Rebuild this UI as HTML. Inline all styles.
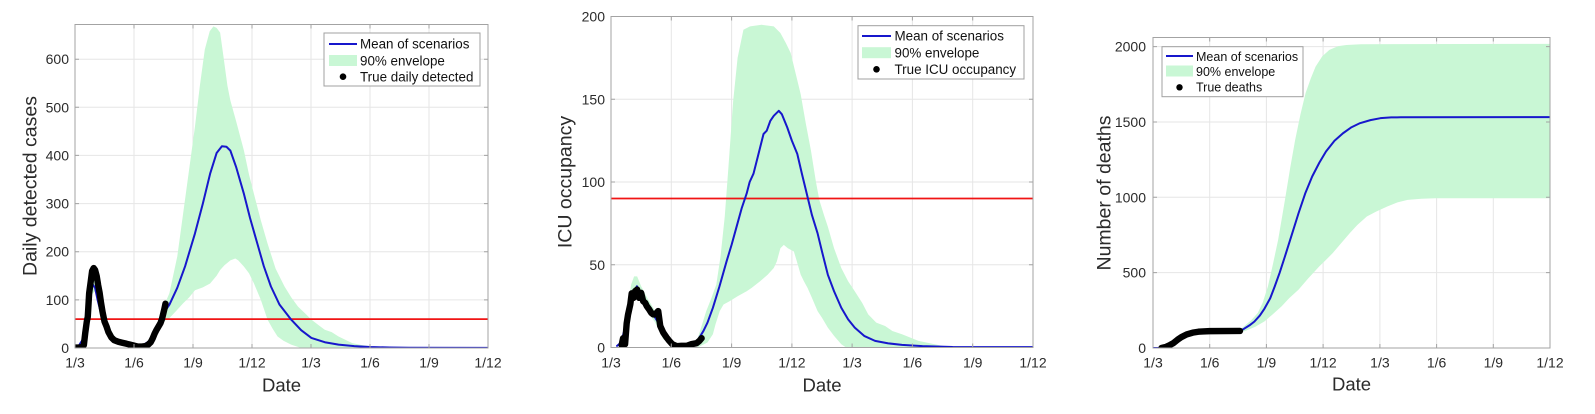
<!DOCTYPE html>
<html><head><meta charset="utf-8"><style>
html,body{margin:0;padding:0;background:#fff;}
svg{display:block;}
text{font-family:"Liberation Sans",Arial,sans-serif;fill:#2b2b2b;}
.tk{font-size:14px;}
.lb{font-size:18.5px;}
.yl{font-size:19.5px;}
.lg{font-size:13.4px;fill:#111;}
.lg3{font-size:12.5px;fill:#111;}
.grid{stroke:#e6e6e6;stroke-width:1;}
.ax{fill:none;stroke:#a3a3a3;stroke-width:1;}
.ns{vector-effect:non-scaling-stroke;fill:none;stroke-linejoin:round;stroke-linecap:round;}
</style></head><body>
<svg width="1595" height="414" viewBox="0 0 1595 414" xmlns="http://www.w3.org/2000/svg">
<rect width="1595" height="414" fill="#fff"/>
<defs>
<clipPath id="c1"><rect x="75" y="24.5" width="413" height="323.5"/></clipPath>
<clipPath id="c2"><rect x="611" y="16.5" width="422" height="331"/></clipPath>
<clipPath id="c3"><rect x="1153" y="37.5" width="397" height="310.5"/></clipPath>
</defs>

<!-- ================= PANEL 1 ================= -->
<g class="grid">
<line x1="134" y1="24.5" x2="134" y2="348"/><line x1="193" y1="24.5" x2="193" y2="348"/><line x1="252" y1="24.5" x2="252" y2="348"/><line x1="311" y1="24.5" x2="311" y2="348"/><line x1="370" y1="24.5" x2="370" y2="348"/><line x1="429" y1="24.5" x2="429" y2="348"/>
<line x1="75" y1="299.9" x2="488" y2="299.9"/><line x1="75" y1="251.7" x2="488" y2="251.7"/><line x1="75" y1="203.6" x2="488" y2="203.6"/><line x1="75" y1="155.4" x2="488" y2="155.4"/><line x1="75" y1="107.3" x2="488" y2="107.3"/><line x1="75" y1="59.2" x2="488" y2="59.2"/>
</g>
<g clip-path="url(#c1)">
<g transform="translate(75,348) scale(19.667,-0.4814)">
<path fill="#c9f7d5" d="M4.5,85 L4.8,114 5.2,190 5.5,280 5.8,370 6.1,460 6.35,545 6.6,620 6.85,658 7.04,668 7.2,665 7.38,655 7.55,605 7.75,545 7.9,514 8.2,470 8.59,410 8.85,360 9.1,320 9.45,265 9.79,217 10.2,165 10.65,128 11.0,105 11.34,86 11.7,72 12.02,59 12.4,47 12.7,38 13.05,33 13.4,24 14.1,10 14.6,6 15.1,3 16,1 17,0 11.5,0 10.99,7 10.6,15 10.3,24 10.05,40 9.79,59 9.45,100 9.1,134 8.85,155 8.59,169 8.3,182 8.15,186 7.9,182 7.6,172 7.38,162 7.2,150 6.87,134 6.5,126 6.1,120 5.8,105 5.5,93 5.1,75 4.8,62 4.5,55 Z"/>
<path fill="#c9f7d5" d="M0.3,5 L0.6,60 0.85,140 1.0,140 1.2,115 1.5,62 2.0,25 2.5,10 3,5 3,0 2,12 1.5,40 1.2,100 1.0,118 0.85,110 0.6,30 0.3,0 Z"/>
</g>
<line x1="75" y1="319.1" x2="488" y2="319.1" stroke="#f01414" stroke-width="1.8"/>
<g transform="translate(75,348) scale(19.667,-0.4814)">
<path class="ns" stroke="#1717cc" stroke-width="2" d="M0,2 L0.2,5 0.4,18 0.55,45 0.7,95 0.82,125 0.92,131 1.02,125 1.15,100 1.3,75 1.45,55 1.6,42 1.8,28 2.0,20 2.3,12 2.6,8 2.9,5 3.2,4 3.5,7 3.8,15 4.0,28 4.2,45 4.4,62 4.6,78 4.8,90 5.2,125 5.6,170 6.1,238 6.5,300 6.87,362 7.2,405 7.47,419 7.7,418 7.9,410 8.2,375 8.59,320 8.9,270 9.27,217 9.6,170 9.96,128 10.4,90 10.99,59 11.5,37 12.02,21 12.7,12 13.4,7 14.2,4 15,2 16,1 17,0.5 21,0.3"/>
<path class="ns" stroke="#000" stroke-width="6.4" d="M0,1 L0.2,1 0.35,2 0.45,6 0.52,31 0.6,55 0.65,65 0.72,114 0.8,138 0.87,160 0.95,166 1.02,162 1.1,150 1.18,130 1.25,115 1.32,95 1.4,75 1.5,55 1.6,45 1.7,33 1.85,22 2.0,16 2.2,13 2.4,11 2.6,9 2.8,7 3.0,5 3.2,3 3.4,3 3.6,4 3.75,8 3.85,12 3.95,20 4.05,30 4.15,38 4.25,45 4.35,52 4.42,60 4.48,70 4.55,82 4.6,92"/>
</g>
</g>
<rect class="ax" x="75" y="24.5" width="413" height="323.5"/>
<g stroke="#a3a3a3" stroke-width="1">
<path d="M134,348v-4M193,348v-4M252,348v-4M311,348v-4M370,348v-4M429,348v-4M134,24.5v4M193,24.5v4M252,24.5v4M311,24.5v4M370,24.5v4M429,24.5v4M75,299.9h4M75,251.7h4M75,203.6h4M75,155.4h4M75,107.3h4M75,59.2h4M488,299.9h-4M488,251.7h-4M488,203.6h-4M488,155.4h-4M488,107.3h-4M488,59.2h-4"/>
</g>
<g class="tk" text-anchor="end">
<text x="69" y="353">0</text><text x="69" y="304.9">100</text><text x="69" y="256.7">200</text><text x="69" y="208.6">300</text><text x="69" y="160.4">400</text><text x="69" y="112.3">500</text><text x="69" y="64.2">600</text>
</g>
<g class="tk" text-anchor="middle">
<text x="75" y="367.5">1/3</text><text x="134" y="367.5">1/6</text><text x="193" y="367.5">1/9</text><text x="252" y="367.5">1/12</text><text x="311" y="367.5">1/3</text><text x="370" y="367.5">1/6</text><text x="429" y="367.5">1/9</text><text x="488" y="367.5">1/12</text>
</g>
<text class="lb" x="281.5" y="391.5" text-anchor="middle">Date</text>
<text class="yl" transform="translate(36.5,186) rotate(-90)" text-anchor="middle">Daily detected cases</text>
<rect x="324" y="33" width="156" height="53" fill="#fff" stroke="#a0a0a0" stroke-width="1"/>
<line x1="329" y1="44" x2="357" y2="44" stroke="#1717cc" stroke-width="2"/>
<rect x="329" y="55" width="28" height="11" fill="#c9f7d5"/>
<circle cx="343" cy="76.7" r="3.3" fill="#000"/>
<text class="lg" x="360" y="48.7">Mean of scenarios</text>
<text class="lg" x="360" y="65.3">90% envelope</text>
<text class="lg" x="360" y="81.5">True daily detected</text>

<!-- ================= PANEL 2 ================= -->
<g class="grid">
<line x1="671.3" y1="16.5" x2="671.3" y2="347.5"/><line x1="731.6" y1="16.5" x2="731.6" y2="347.5"/><line x1="791.9" y1="16.5" x2="791.9" y2="347.5"/><line x1="852.1" y1="16.5" x2="852.1" y2="347.5"/><line x1="912.4" y1="16.5" x2="912.4" y2="347.5"/><line x1="972.7" y1="16.5" x2="972.7" y2="347.5"/>
<line x1="611" y1="264.75" x2="1033" y2="264.75"/><line x1="611" y1="182" x2="1033" y2="182"/><line x1="611" y1="99.25" x2="1033" y2="99.25"/>
</g>
<g clip-path="url(#c2)">
<g transform="translate(611,347.5) scale(20.095,-1.655)">
<path fill="#c9f7d5" d="M4.3,5 L4.74,22 5.0,30 5.24,38 5.45,55 5.66,79 5.85,110 6.08,149 6.3,175 6.59,192 6.92,194 7.5,195 8.1,194 8.43,190 8.7,184 8.94,178 9.2,165 9.44,153 9.7,135 9.95,119 10.2,100 10.37,89 10.6,80 10.79,73 11.1,60 11.46,48 11.8,40 12.13,34 12.5,27 12.8,20 13.2,15 13.64,13 14.0,10 14.48,8 14.9,6 15.3,4 15.9,2.5 16.5,1 16.8,0 11.7,0 11.46,2 11.1,7 10.79,12 10.5,18 10.28,22 10.0,30 9.78,36 9.6,40 9.44,44 9.25,52 9.1,58 8.8,60 8.6,62 8.43,60 8.25,52 8.1,48 7.8,44 7.42,40 7.0,36 6.75,34 6.3,31 5.91,28 5.6,26 5.41,22 5.2,14 5.07,8 4.8,3 4.3,0 Z"/>
<path fill="#c9f7d5" d="M0.5,0 L0.8,18 1.0,38 1.15,43 1.3,43 1.5,37 1.8,30 2.2,22 2.6,10 3.0,3 3.4,1 3.4,0 2.6,5 2.2,15 1.8,22 1.5,28 1.2,30 1.0,25 0.8,10 0.5,0 Z"/>
</g>
<line x1="611" y1="198.5" x2="1033" y2="198.5" stroke="#f01414" stroke-width="1.8"/>
<g transform="translate(611,347.5) scale(20.095,-1.655)">
<path class="ns" stroke="#1717cc" stroke-width="2" d="M0.3,1 L0.5,3 0.7,12 0.9,25 1.1,33 1.29,37 1.5,33 1.7,28 1.9,24 2.1,20 2.3,16 2.5,11 2.7,7 2.9,4 3.1,2 3.4,1 3.7,1 4.0,2 4.2,3 4.4,6 4.6,10 4.8,15 5.07,24 5.4,37 5.75,52 6.0,62 6.25,73 6.5,84 6.75,93 6.9,100 7.09,105 7.3,115 7.59,129 7.75,131 7.93,137 8.1,140 8.35,143 8.5,141 8.77,133 9.0,125 9.27,117 9.5,105 9.78,91 10.0,80 10.28,69 10.5,58 10.79,44 11.1,34 11.46,24 11.8,17 12.13,12 12.6,7 13.14,4 13.8,2.5 14.48,1.6 15.5,0.8 17,0.3 21,0.2"/>
<path class="ns" stroke="#000" stroke-width="6.4" d="M0.53,1.4 L0.6,5.6 0.7,2 0.78,14.6 0.85,20 0.96,26 1.03,32.7 1.12,30 1.2,34 1.3,35 1.4,30 1.5,33 1.6,28 1.7,27 1.78,25 1.9,23 2.0,21 2.1,20 2.2,20 2.35,22 2.45,13 2.6,9 2.77,6 2.9,4 3.05,2 3.27,0.8 3.5,1 3.76,1 4.0,2 4.26,2.6 4.4,4 4.51,5.6"/>
</g>
</g>
<rect class="ax" x="611" y="16.5" width="422" height="331"/>
<g stroke="#a3a3a3" stroke-width="1">
<path d="M671.3,347.5v-4M731.6,347.5v-4M791.9,347.5v-4M852.1,347.5v-4M912.4,347.5v-4M972.7,347.5v-4M671.3,16.5v4M731.6,16.5v4M791.9,16.5v4M852.1,16.5v4M912.4,16.5v4M972.7,16.5v4M611,264.75h4M611,182h4M611,99.25h4M1033,264.75h-4M1033,182h-4M1033,99.25h-4"/>
</g>
<g class="tk" text-anchor="end">
<text x="605" y="352.5">0</text><text x="605" y="269.75">50</text><text x="605" y="187">100</text><text x="605" y="104.25">150</text><text x="605" y="21.5">200</text>
</g>
<g class="tk" text-anchor="middle">
<text x="611" y="367.5">1/3</text><text x="671.3" y="367.5">1/6</text><text x="731.6" y="367.5">1/9</text><text x="791.9" y="367.5">1/12</text><text x="852.1" y="367.5">1/3</text><text x="912.4" y="367.5">1/6</text><text x="972.7" y="367.5">1/9</text><text x="1033" y="367.5">1/12</text>
</g>
<text class="lb" x="822" y="391.5" text-anchor="middle">Date</text>
<text class="yl" transform="translate(571.5,182) rotate(-90)" text-anchor="middle">ICU occupancy</text>
<rect x="858" y="25.7" width="166" height="53.3" fill="#fff" stroke="#a0a0a0" stroke-width="1"/>
<line x1="862" y1="36" x2="891" y2="36" stroke="#1717cc" stroke-width="2"/>
<rect x="862" y="47.2" width="29" height="11" fill="#c9f7d5"/>
<circle cx="876.5" cy="69.3" r="3.3" fill="#000"/>
<text class="lg" x="894.5" y="40.7">Mean of scenarios</text>
<text class="lg" x="894.5" y="57.4">90% envelope</text>
<text class="lg" x="894.5" y="74">True ICU occupancy</text>

<!-- ================= PANEL 3 ================= -->
<g class="grid">
<line x1="1209.7" y1="37.5" x2="1209.7" y2="348"/><line x1="1266.4" y1="37.5" x2="1266.4" y2="348"/><line x1="1323.1" y1="37.5" x2="1323.1" y2="348"/><line x1="1379.9" y1="37.5" x2="1379.9" y2="348"/><line x1="1436.6" y1="37.5" x2="1436.6" y2="348"/><line x1="1493.3" y1="37.5" x2="1493.3" y2="348"/>
<line x1="1153" y1="272.65" x2="1550" y2="272.65"/><line x1="1153" y1="197.3" x2="1550" y2="197.3"/><line x1="1153" y1="121.95" x2="1550" y2="121.95"/><line x1="1153" y1="46.6" x2="1550" y2="46.6"/>
</g>
<g clip-path="url(#c3)">
<g transform="translate(1153,348) scale(18.905,-0.1507)">
<path fill="#c9f7d5" d="M4.55,118 L4.82,144 5.2,185 5.54,232 5.8,300 6.08,409 6.35,560 6.62,718 6.8,850 6.98,983 7.25,1190 7.52,1381 7.8,1550 8.07,1691 8.35,1790 8.6,1867 8.95,1935 9.33,1978 9.8,2003 10.23,2011 11,2016 21,2018 21,994 14.92,994 14.2,990 13.47,983 12.9,965 12.39,939 11.8,905 11.31,873 10.8,815 10.41,762 9.95,695 9.51,630 9.15,585 8.79,541 8.2,460 7.7,387 7.2,330 6.8,276 6.3,220 5.9,177 5.4,140 4.82,110 4.55,112 Z"/>
<path class="ns" stroke="#1717cc" stroke-width="2" d="M0,0 L0.3,1 0.6,6 0.9,20 1.06,31 1.3,55 1.5,72 1.78,90 2.1,102 2.4,108 2.65,110 3.0,112 4.6,113 4.82,128 5.1,150 5.36,175 5.65,215 5.9,262 6.2,330 6.44,409 6.7,500 6.98,608 7.35,755 7.7,895 8.05,1025 8.42,1138 8.8,1230 9.15,1304 9.6,1375 10.05,1425 10.5,1465 10.95,1492 11.5,1512 12.03,1525 12.6,1530 13.1,1531 21,1532"/>
<path class="ns" stroke="#000" stroke-width="6.4" d="M0.45,0 L0.7,8 0.9,20 1.06,31 1.3,55 1.5,72 1.78,90 2.1,102 2.4,108 2.65,110 3.0,112 4.6,113"/>
</g>
</g>
<rect class="ax" x="1153" y="37.5" width="397" height="310.5"/>
<g stroke="#a3a3a3" stroke-width="1">
<path d="M1209.7,348v-4M1266.4,348v-4M1323.1,348v-4M1379.9,348v-4M1436.6,348v-4M1493.3,348v-4M1209.7,37.5v4M1266.4,37.5v4M1323.1,37.5v4M1379.9,37.5v4M1436.6,37.5v4M1493.3,37.5v4M1153,272.65h4M1153,197.3h4M1153,121.95h4M1153,46.6h4M1550,272.65h-4M1550,197.3h-4M1550,121.95h-4M1550,46.6h-4"/>
</g>
<g class="tk" text-anchor="end">
<text x="1146" y="353">0</text><text x="1146" y="277.65">500</text><text x="1146" y="202.3">1000</text><text x="1146" y="126.95">1500</text><text x="1146" y="51.6">2000</text>
</g>
<g class="tk" text-anchor="middle">
<text x="1153" y="367.5">1/3</text><text x="1209.7" y="367.5">1/6</text><text x="1266.4" y="367.5">1/9</text><text x="1323.1" y="367.5">1/12</text><text x="1379.9" y="367.5">1/3</text><text x="1436.6" y="367.5">1/6</text><text x="1493.3" y="367.5">1/9</text><text x="1550" y="367.5">1/12</text>
</g>
<text class="lb" x="1351.5" y="390.5" text-anchor="middle">Date</text>
<text class="yl" transform="translate(1110.5,193) rotate(-90)" text-anchor="middle">Number of deaths</text>
<rect x="1162" y="46.7" width="141" height="50" fill="#fff" stroke="#a0a0a0" stroke-width="1"/>
<line x1="1166" y1="56" x2="1193" y2="56" stroke="#1717cc" stroke-width="2"/>
<rect x="1166" y="65.5" width="27" height="11" fill="#c9f7d5"/>
<circle cx="1179.5" cy="87.3" r="3.2" fill="#000"/>
<text class="lg3" x="1196" y="61">Mean of scenarios</text>
<text class="lg3" x="1196" y="76">90% envelope</text>
<text class="lg3" x="1196" y="91.6">True deaths</text>
</svg>
</body></html>
